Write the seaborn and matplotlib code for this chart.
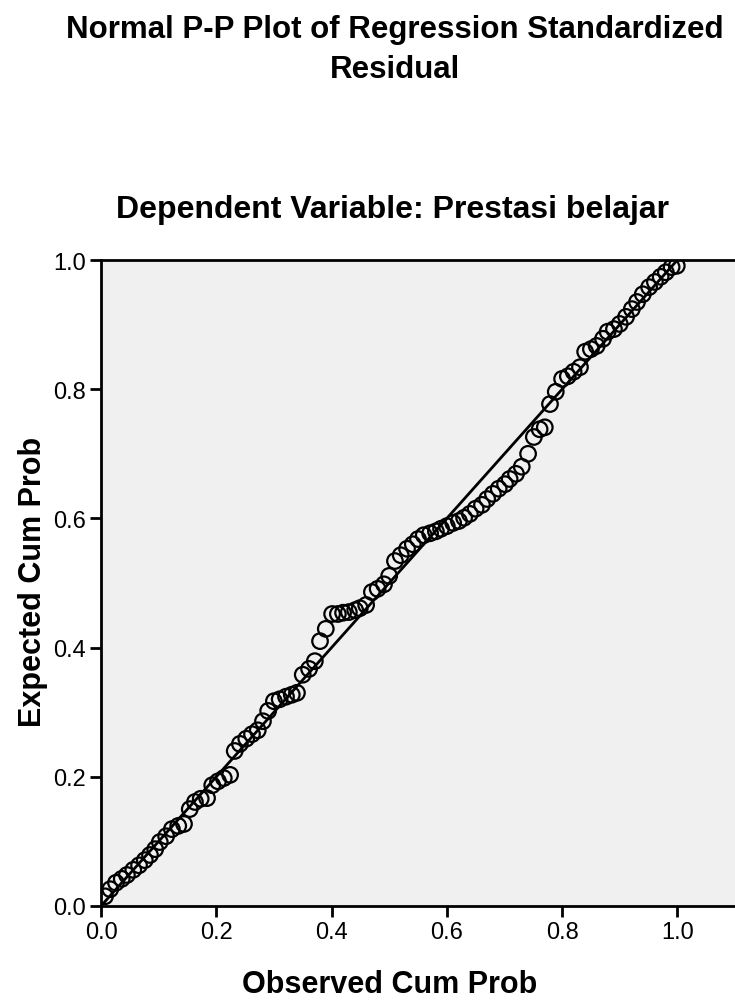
import numpy as np
import pandas as pd
import seaborn as sns
import matplotlib.pyplot as plt

# observed vs expected cumulative probability
observed = [0.007, 0.016, 0.026, 0.036, 0.045, 0.056, 0.066, 0.076, 0.085, 0.094,
            0.102, 0.113, 0.123, 0.134, 0.144, 0.154, 0.163, 0.173, 0.184, 0.193,
            0.203, 0.213, 0.224, 0.232, 0.241, 0.252, 0.262, 0.272, 0.281, 0.290,
            0.300, 0.310, 0.321, 0.331, 0.340, 0.350, 0.361, 0.371, 0.380, 0.390,
            0.401, 0.411, 0.420, 0.430, 0.441, 0.449, 0.460, 0.470, 0.480, 0.491,
            0.500, 0.510, 0.520, 0.531, 0.541, 0.550, 0.560, 0.571, 0.581, 0.590,
            0.600, 0.611, 0.621, 0.630, 0.640, 0.650, 0.661, 0.670, 0.680, 0.690,
            0.701, 0.709, 0.720, 0.730, 0.741, 0.751, 0.761, 0.770, 0.779, 0.789,
            0.800, 0.810, 0.820, 0.831, 0.840, 0.850, 0.860, 0.871, 0.879, 0.890,
            0.900, 0.911, 0.921, 0.930, 0.940, 0.951, 0.961, 0.971, 0.980, 0.990,
            0.999]
expected = [0.015, 0.026, 0.036, 0.042, 0.048, 0.056, 0.063, 0.071, 0.079, 0.088,
            0.099, 0.108, 0.119, 0.124, 0.127, 0.150, 0.161, 0.166, 0.167, 0.187,
            0.193, 0.198, 0.203, 0.240, 0.251, 0.259, 0.266, 0.272, 0.286, 0.302,
            0.317, 0.320, 0.324, 0.327, 0.330, 0.358, 0.367, 0.379, 0.410, 0.429,
            0.452, 0.452, 0.454, 0.455, 0.458, 0.461, 0.466, 0.486, 0.491, 0.498,
            0.511, 0.534, 0.543, 0.553, 0.560, 0.568, 0.574, 0.577, 0.580, 0.584,
            0.588, 0.593, 0.596, 0.601, 0.607, 0.615, 0.621, 0.630, 0.638, 0.646,
            0.653, 0.661, 0.669, 0.680, 0.700, 0.726, 0.738, 0.741, 0.777, 0.796,
            0.816, 0.820, 0.827, 0.834, 0.858, 0.862, 0.867, 0.878, 0.889, 0.893,
            0.901, 0.912, 0.924, 0.935, 0.947, 0.958, 0.966, 0.974, 0.981, 0.989,
            0.991]
ref_x = [0.0, 1.0]
ref_y = [0.0, 1.0]
ticks = [0.0, 0.2, 0.4, 0.6, 0.8, 1.0]

sns.set_style("ticks")
plt.rcParams['font.family'] = ['Liberation Sans', 'DejaVu Sans']

fig = plt.figure(figsize=(7.35, 10.03), dpi=100)
ax = fig.add_axes([101/735, 1 - 907/1003, 1 - 101/735, (907 - 261)/1003])
ax.set_facecolor('#f0f0f0')

pts = pd.DataFrame({"observed": observed, "expected": expected})
sns.lineplot(x=ref_x, y=ref_y, ax=ax, color='black', linewidth=2)
sns.scatterplot(data=pts, x="observed", y="expected", ax=ax, marker='o', s=125,
                facecolors='none', edgecolor='black', linewidth=1.6, zorder=3)

ax.set_xlim(0, 1.1)
ax.set_ylim(0, 1.0)
ax.set_xticks(ticks)
ax.set_yticks(ticks)
ax.set_xticklabels([f"{t:.1f}" for t in ticks])
ax.set_yticklabels([f"{t:.1f}" for t in ticks])
ax.tick_params(direction='out', length=8, width=2, labelsize=17, colors='black', pad=3)
for side in ['left', 'bottom', 'top']:
    ax.spines[side].set_linewidth(2)
    ax.spines[side].set_color('black')
ax.spines['right'].set_visible(False)
ax.set_xlabel("")
ax.set_ylabel("")

fig.text(390/735, 1 - 985/1003, "Observed Cum Prob", ha='center', va='center',
         fontsize=22, fontweight='bold', color='black')
fig.text(33/735, 1 - 582/1003, "Expected Cum Prob", ha='center', va='center',
         rotation=90, fontsize=22, fontweight='bold', color='black')
fig.text(395/735, 1 - 50/1003, "Normal P-P Plot of Regression Standardized\nResidual",
         ha='center', va='center', fontsize=22.5, fontweight='bold', linespacing=1.4,
         color='black')
fig.text(393/735, 1 - 210/1003, "Dependent Variable: Prestasi belajar",
         ha='center', va='center', fontsize=23, fontweight='bold', color='black')

fig.savefig('out.png', dpi=100)
